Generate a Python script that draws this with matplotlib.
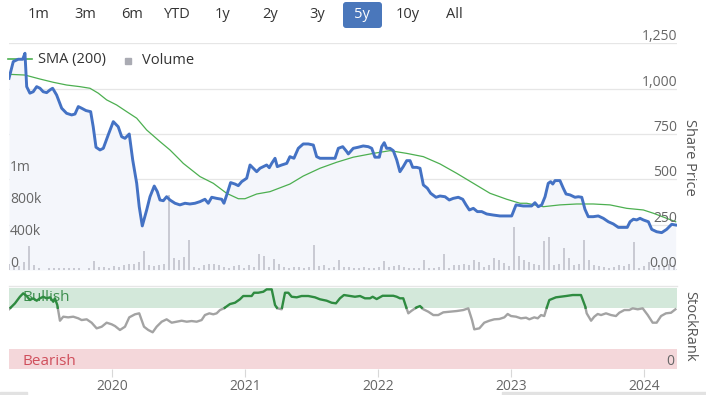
import matplotlib.pyplot as plt
import numpy as np
from matplotlib.patches import FancyBboxPatch, Rectangle
from matplotlib.lines import Line2D
from matplotlib.transforms import IdentityTransform

plt.rcParams['font.family'] = ['Open Sans', 'DejaVu Sans']

# range selector buttons
ranges = ['1m', '3m', '6m', 'YTD', '1y', '2y', '3y', '5y', '10y', 'All']
selected = '5y'

# share price (decimal years)
price_t = [2019.226, 2019.258, 2019.295, 2019.329, 2019.346, 2019.359, 2019.383, 2019.408, 2019.434, 2019.459,
           2019.483, 2019.509, 2019.534, 2019.554, 2019.584, 2019.622, 2019.659, 2019.697, 2019.722, 2019.747,
           2019.772, 2019.805, 2019.840, 2019.859, 2019.880, 2019.910, 2019.935, 2019.972,
           2020.010, 2020.047, 2020.073, 2020.098, 2020.130, 2020.156, 2020.186, 2020.205, 2020.228, 2020.261,
           2020.286, 2020.318, 2020.341, 2020.361, 2020.386, 2020.411, 2020.436, 2020.474, 2020.511, 2020.549,
           2020.586, 2020.624, 2020.662, 2020.699, 2020.724, 2020.750, 2020.787, 2020.825, 2020.842, 2020.867,
           2020.892, 2020.925, 2020.950, 2020.975,
           2021.013, 2021.038, 2021.062, 2021.088, 2021.113, 2021.138, 2021.163, 2021.183, 2021.201, 2021.226,
           2021.243, 2021.276, 2021.314, 2021.338, 2021.368, 2021.401, 2021.438, 2021.476, 2021.514, 2021.539,
           2021.564, 2021.602, 2021.639, 2021.677, 2021.702, 2021.735, 2021.765, 2021.777, 2021.814, 2021.852,
           2021.889, 2021.927, 2021.953, 2021.977,
           2022.010, 2022.028, 2022.047, 2022.065, 2022.090, 2022.115, 2022.141, 2022.165, 2022.190, 2022.216,
           2022.241, 2022.261, 2022.291, 2022.316, 2022.341, 2022.371, 2022.396, 2022.436, 2022.466, 2022.504,
           2022.536, 2022.566, 2022.604, 2022.637, 2022.662, 2022.687, 2022.717, 2022.747, 2022.780, 2022.817,
           2022.867, 2022.917, 2022.968,
           2023.005, 2023.038, 2023.092, 2023.130, 2023.155, 2023.180, 2023.205, 2023.231, 2023.256, 2023.280,
           2023.298, 2023.314, 2023.331, 2023.368, 2023.393, 2023.414, 2023.444, 2023.481, 2023.506, 2023.532,
           2023.556, 2023.581, 2023.618, 2023.656, 2023.694, 2023.732, 2023.769, 2023.807, 2023.844, 2023.874,
           2023.895, 2023.920, 2023.945, 2023.970, 2023.995,
           2024.033, 2024.058, 2024.095, 2024.133, 2024.170, 2024.208, 2024.238]
price = [1057, 1149, 1162, 1162, 1195, 1011, 975, 983, 1011, 1002,
         983, 978, 993, 1002, 965, 892, 864, 855, 860, 901,
         892, 879, 873, 790, 677, 662, 671, 745,
         818, 790, 735, 726, 750, 607, 478, 349, 243, 331,
         404, 463, 432, 386, 382, 404, 386, 368, 359, 368,
         364, 368, 377, 390, 368, 401, 395, 390, 368, 423,
         482, 474, 465, 487,
         506, 579, 561, 542, 561, 570, 579, 564, 588, 616,
         570, 579, 588, 625, 616, 671, 695, 695, 689, 625,
         616, 616, 616, 616, 671, 680, 653, 640, 671, 677,
         684, 680, 671, 622,
         622, 680, 702, 671, 671, 658, 607, 542, 570, 603,
         603, 566, 566, 561, 469, 451, 423, 401, 408, 404,
         386, 395, 401, 390, 359, 331, 340, 322, 322, 309,
         303, 298, 298,
         298, 359, 353, 353, 353, 371, 349, 359, 404, 478,
         487, 474, 493, 493, 451, 419, 414, 401, 404, 401,
         335, 294, 294, 298, 285, 266, 254, 235, 235, 235,
         266, 280, 276, 285, 276,
         266, 224, 211, 206, 224, 252, 248]

# 200 day simple moving average
sma_t = [2019.226, 2019.346, 2019.459, 2019.559, 2019.659, 2019.759, 2019.835, 2019.897, 2019.960,
         2020.035, 2020.111, 2020.186, 2020.261, 2020.361, 2020.436, 2020.511, 2020.536, 2020.662, 2020.762,
         2020.862, 2020.950, 2021.000, 2021.088, 2021.188, 2021.338, 2021.438, 2021.564, 2021.689, 2021.814,
         2021.965, 2022.090, 2022.216, 2022.341, 2022.466, 2022.592, 2022.717, 2022.842, 2022.968, 2023.068,
         2023.118, 2023.243, 2023.368, 2023.494, 2023.618, 2023.744, 2023.870, 2023.995, 2024.070, 2024.170,
         2024.238]
sma = [1079, 1075, 1053, 1035, 1020, 1011, 1002, 975, 938,
       910, 873, 837, 772, 708, 662, 607, 588, 515, 478,
       423, 393, 393, 419, 432, 474, 518, 561, 594, 622,
       643, 658, 643, 625, 585, 533, 478, 423, 390, 368,
       368, 349, 359, 364, 364, 359, 340, 331, 313, 285,
       266]

# volume in thousands, roughly every two weeks
volume_k = [80, 60, 50, 100, 300, 60, 30, 0, 30, 20,
            30, 20, 30, 20, 30, 0, 20, 115, 40, 40,
            30, 50, 40, 60, 70, 70, 100, 240, 60, 50,
            60, 70, 940, 150, 130, 160, 375, 40, 30, 60,
            70, 70, 60, 40, 20, 50, 60, 30, 60, 40,
            200, 180, 40, 140, 70, 40, 30, 40, 40, 20,
            40, 310, 50, 60, 20, 40, 120, 40, 40, 30,
            20, 40, 20, 30, 40, 110, 40, 50, 60, 40,
            30, 20, 30, 120, 20, 30, 40, 200, 20, 60,
            60, 70, 60, 120, 100, 40, 60, 150, 130, 90,
            50, 540, 180, 120, 100, 80, 60, 360, 410, 60,
            70, 270, 150, 60, 80, 370, 120, 60, 50, 40,
            30, 40, 60, 50, 70, 350, 30, 50, 100, 30,
            60, 50, 70, 60]

# StockRank
rank_t = [2019.226, 2019.271, 2019.308, 2019.333, 2019.359, 2019.383, 2019.408, 2019.434, 2019.459, 2019.483,
          2019.509, 2019.534, 2019.559, 2019.571, 2019.589, 2019.609, 2019.634, 2019.671, 2019.709, 2019.747,
          2019.772, 2019.810, 2019.847, 2019.885, 2019.923, 2019.960, 2019.998,
          2020.023, 2020.060, 2020.098, 2020.130, 2020.173, 2020.205, 2020.241, 2020.273, 2020.306, 2020.336,
          2020.374, 2020.411, 2020.449, 2020.486, 2020.524, 2020.562, 2020.599, 2020.637, 2020.674, 2020.699,
          2020.732, 2020.762, 2020.787, 2020.812, 2020.842, 2020.887, 2020.925, 2020.962, 2020.987,
          2021.025, 2021.050, 2021.068, 2021.100, 2021.138, 2021.163, 2021.201, 2021.226, 2021.243, 2021.276,
          2021.301, 2021.326, 2021.351, 2021.389, 2021.426, 2021.476, 2021.526, 2021.564, 2021.614, 2021.652,
          2021.684, 2021.714, 2021.744, 2021.789, 2021.827, 2021.865, 2021.902, 2021.940, 2021.960, 2021.990,
          2022.035, 2022.077, 2022.115, 2022.141, 2022.165, 2022.190, 2022.211, 2022.228, 2022.253, 2022.291,
          2022.316, 2022.341, 2022.378, 2022.416, 2022.453, 2022.491, 2022.541, 2022.592, 2022.641, 2022.679,
          2022.707, 2022.724, 2022.762, 2022.799, 2022.837, 2022.874, 2022.912, 2022.950, 2022.975,
          2023.000, 2023.038, 2023.075, 2023.113, 2023.138, 2023.175, 2023.201, 2023.226, 2023.250, 2023.263,
          2023.288, 2023.338, 2023.414, 2023.464, 2023.526, 2023.559, 2023.569, 2023.602, 2023.626, 2023.652,
          2023.677, 2023.714, 2023.752, 2023.789, 2023.814, 2023.852, 2023.889, 2023.915, 2023.953, 2023.990,
          2024.028, 2024.065, 2024.095, 2024.128, 2024.165, 2024.203, 2024.236]
rank = [73.1, 80.4, 88.4, 92.6, 89.3, 84.4, 86.5, 83.6, 86.5, 88.4,
        86.5, 87.7, 82.3, 86.5, 78.3, 59.2, 64.1, 63.3, 64.1, 62.1,
        60.0, 60.9, 56.8, 49.9, 51.9, 56.8, 54.8,
        52.7, 47.9, 51.9, 63.3, 67.0, 68.2, 51.9, 47.9, 45.1, 51.9,
        58.0, 60.9, 56.8, 58.0, 59.2, 58.0, 58.8, 58.0, 60.0, 66.1,
        68.2, 67.0, 68.2, 72.2, 74.3, 79.5, 81.1, 85.3, 89.3,
        89.3, 89.3, 93.3, 93.3, 94.5, 97.4, 97.4, 78.3, 74.3, 73.1,
        93.3, 93.3, 88.4, 87.7, 89.3, 89.3, 87.7, 85.3, 83.6, 81.1,
        80.4, 86.5, 90.5, 89.3, 88.4, 89.3, 86.5, 86.5, 88.4, 85.6,
        89.6, 89.6, 89.6, 88.4, 86.5, 86.5, 76.2, 68.2, 71.4, 75.5,
        77.1, 73.1, 70.2, 66.1, 66.1, 69.4, 70.2, 71.0, 72.2, 74.3,
        60.0, 48.7, 49.9, 56.8, 59.2, 60.9, 61.3, 63.3, 67.4,
        64.9, 64.1, 62.1, 62.9, 60.9, 63.3, 62.1, 66.1, 64.9, 72.2,
        84.4, 87.7, 89.3, 90.5, 90.5, 76.2, 68.2, 59.2, 64.1, 67.4,
        66.1, 68.2, 66.1, 64.9, 68.9, 72.2, 72.2, 74.3, 73.1, 74.3,
        66.1, 56.8, 56.8, 64.9, 68.2, 68.9, 73.1]

years = [2020, 2021, 2022, 2023, 2024]
price_ticks = [0, 250, 500, 750, 1000, 1250]
vol_ticks = [0, 400, 800, 1200]
vol_labels = ['0', '400k', '800k', '1m']

W, H = 706, 395
X0, X1 = 2019.226, 2024.248
GRID = '#e6e6e6'
TXT = '#666666'


def rect(x0, y0, x1, y1):
    return [x0 / W, 1 - y1 / H, (x1 - x0) / W, (y1 - y0) / H]


def split_at(t, v, thr):
    # add the crossing points so both coloured parts meet at the band edge
    tt, vv = [t[0]], [v[0]]
    for i in range(1, len(t)):
        if (v[i - 1] - thr) * (v[i] - thr) < 0:
            f = (thr - v[i - 1]) / (v[i] - v[i - 1])
            tt.append(t[i - 1] + f * (t[i] - t[i - 1]))
            vv.append(thr)
        tt.append(t[i])
        vv.append(v[i])
    return np.array(tt), np.array(vv)


fig = plt.figure(figsize=(W / 100, H / 100), dpi=100)

# price panel: background layer, volume layer, line layer
ax = fig.add_axes(rect(9, 43.3, 677, 270))
axv = fig.add_axes(rect(9, 43.3, 677, 270))
axl = fig.add_axes(rect(9, 43.3, 677, 270))
for a in (ax, axv, axl):
    a.set_xlim(X0, X1)
    for s in a.spines.values():
        s.set_visible(False)
    a.set_xticks([])
    a.set_yticks([])
    a.patch.set_alpha(0)
ax.set_zorder(1)
axv.set_zorder(2)
axl.set_zorder(3)
ax.set_ylim(0, 1250)
axl.set_ylim(0, 1250)
axv.set_ylim(0, 1200 * 227 / 96)

for v in price_ticks[1:]:
    ax.axhline(v, color=GRID, lw=0.9, zorder=0)
ax.axhline(0, color='#d8dae0', lw=1.2, zorder=0)
ax.fill_between(price_t, price, 0, color='#f4f6fb', lw=0, zorder=1)

vol_t = np.linspace(2019.226, 2024.226, len(volume_k))
axv.bar(vol_t, volume_k, width=0.016, color='#c9cad3', lw=0)

axl.plot(sma_t, sma, color='#4caf50', lw=0.9, zorder=2)
axl.plot(price_t, price, color='#4472c4', lw=2.1, zorder=3, solid_joinstyle='round')

for v in price_ticks:
    lab = '0.00' if v == 0 else f'{v:,}'
    axl.annotate(lab, xy=(X1, v), xytext=(0, 3), textcoords='offset pixels',
                 ha='right', va='baseline', fontsize=10, color=TXT)
for v, lab in zip(vol_ticks, vol_labels):
    axl.annotate(lab, xy=(X0, v * 96 / 1200 / 227 * 1250), xytext=(1, 3), textcoords='offset pixels',
                 ha='left', va='baseline', fontsize=10, color=TXT)

# legend
fig.add_artist(Line2D([8 / W, 32 / W], [1 - 59 / H, 1 - 59 / H], color='#4caf50', lw=1.2, zorder=0))
fig.text(38 / W, 1 - 60 / H, 'SMA (200)', fontsize=10.5, color='#333333', va='center')
fig.add_artist(Rectangle((125 / W, 1 - 64 / H), 6 / W, 6 / H, color='#aaabb3', transform=fig.transFigure))
fig.text(142 / W, 1 - 60 / H, 'Volume', fontsize=10.5, color='#333333', va='center')

fig.text(690 / W, 1 - 157 / H, 'Share Price', rotation=270, fontsize=10.5, color='#555555',
         ha='center', va='center')

# range selector
centers = [39, 85, 132, 177, 223, 270, 317, 362, 408, 454]
for lab, cx in zip(ranges, centers):
    col = '#333333'
    if lab == selected:
        fig.add_artist(FancyBboxPatch((343, H - 28), 39, 26, boxstyle='round,pad=0,rounding_size=3',
                                      transform=IdentityTransform(), fc='#4a77bb', ec='none'))
        col = 'white'
    fig.text(cx / W, 1 - 15 / H, lab, fontsize=10.5, color=col, ha='center', va='center')

# StockRank panel
axr = fig.add_axes(rect(9, 286, 677, 369.3))
axr.set_xlim(X0, X1)
axr.set_ylim(0, 101.5)
for s in axr.spines.values():
    s.set_visible(False)
axr.axhspan(75, 99, color='#d3e8da', lw=0, zorder=0)
axr.axhspan(0, 25, color='#f4d7da', lw=0, zorder=0)
axr.axhline(101.5, color=GRID, lw=1, clip_on=False)

rt, rv = split_at(rank_t, rank, 75)
axr.plot(rt, np.where(rv <= 75, rv, np.nan), color='#a3a3a3', lw=1.7, zorder=2)
axr.plot(rt, np.where(rv >= 75, rv, np.nan), color='#2e8b40', lw=1.7, zorder=3)

axr.text(22 / 668 * (X1 - X0) + X0 - 9 / 668 * (X1 - X0), 87, 'Bullish', fontsize=11, color='#3f8f50',
         va='center', zorder=1)
axr.text(X0 + 13 / 668 * (X1 - X0), 9.8, 'Bearish', fontsize=11, color='#d04f5c', va='center')
axr.text(X1 - 3 / 668 * (X1 - X0), 9.8, '0', fontsize=10, color=TXT, ha='right', va='center')
axr.set_yticks([])
axr.set_xticks(years)
axr.set_xticklabels([str(y) for y in years], fontsize=10, color=TXT)
axr.tick_params(axis='x', length=6, width=0.8, color='#d8d8d8', pad=1)

fig.text(690 / W, 1 - 326 / H, 'StockRank', rotation=270, fontsize=10.5, color='#555555',
         ha='center', va='center')

# scrollbar remnants at the bottom edge
fig.add_artist(Rectangle((0, 0), 27 / W, 3 / H, color='#e2e2e2', transform=fig.transFigure))
fig.add_artist(Rectangle((502 / W, 0), 204 / W, 3 / H, color='#e2e2e2', transform=fig.transFigure))

fig.savefig('out.png', dpi=100)
